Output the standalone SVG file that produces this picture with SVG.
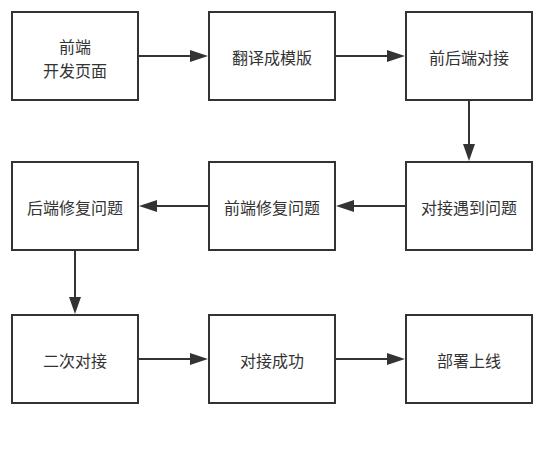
<svg xmlns="http://www.w3.org/2000/svg" width="543" height="452" viewBox="0 0 543 452">
<defs>
<style>
.box{fill:#fff;stroke:#333;stroke-width:2}
.t{font-family:"Microsoft YaHei","Noto Sans CJK SC",sans-serif;font-size:16px;fill:#333;text-anchor:middle;dominant-baseline:central}
.c{stroke:#333;stroke-width:2;fill:none}
.h{fill:#333}
</style>
</defs>
<rect width="543" height="452" fill="#fff"/>
<g id="n1"><rect class="box" x="12" y="12" width="126" height="88"/><text class="t" x="75" y="45.5">前端</text><text class="t" x="75" y="69.5">开发页面</text></g>
<g id="n2"><rect class="box" x="209" y="12" width="126" height="88"/><text class="t" x="272" y="57">翻译成模版</text></g>
<g id="n3"><rect class="box" x="406" y="12" width="126" height="88"/><text class="t" x="469" y="57">前后端对接</text></g>
<g id="n4"><rect class="box" x="406" y="162" width="126" height="88"/><text class="t" x="469" y="207">对接遇到问题</text></g>
<g id="n5"><rect class="box" x="209" y="162" width="126" height="88"/><text class="t" x="272" y="207">前端修复问题</text></g>
<g id="n6"><rect class="box" x="12" y="162" width="126" height="88"/><text class="t" x="75" y="207">后端修复问题</text></g>
<g id="n7"><rect class="box" x="12" y="315" width="126" height="88"/><text class="t" x="75" y="360">二次对接</text></g>
<g id="n8"><rect class="box" x="209" y="315" width="126" height="88"/><text class="t" x="272" y="360">对接成功</text></g>
<g id="n9"><rect class="box" x="406" y="315" width="126" height="88"/><text class="t" x="469" y="360">部署上线</text></g>
<g id="connectors">
<line class="c" x1="139" y1="56" x2="192" y2="56"/><path class="h" d="M190,50 L208,56 L190,62 Z"/>
<line class="c" x1="336" y1="56" x2="389" y2="56"/><path class="h" d="M387,50 L405,56 L387,62 Z"/>
<line class="c" x1="469" y1="101" x2="469" y2="146"/><path class="h" d="M463,144 L469,161 L475,144 Z"/>
<line class="c" x1="405" y1="206" x2="352" y2="206"/><path class="h" d="M354,200 L336,206 L354,212 Z"/>
<line class="c" x1="208" y1="206" x2="155" y2="206"/><path class="h" d="M157,200 L139,206 L157,212 Z"/>
<line class="c" x1="75" y1="251" x2="75" y2="299"/><path class="h" d="M69,297 L75,314 L81,297 Z"/>
<line class="c" x1="139" y1="359" x2="192" y2="359"/><path class="h" d="M190,353 L208,359 L190,365 Z"/>
<line class="c" x1="336" y1="359" x2="389" y2="359"/><path class="h" d="M387,353 L405,359 L387,365 Z"/>
</g>
</svg>
